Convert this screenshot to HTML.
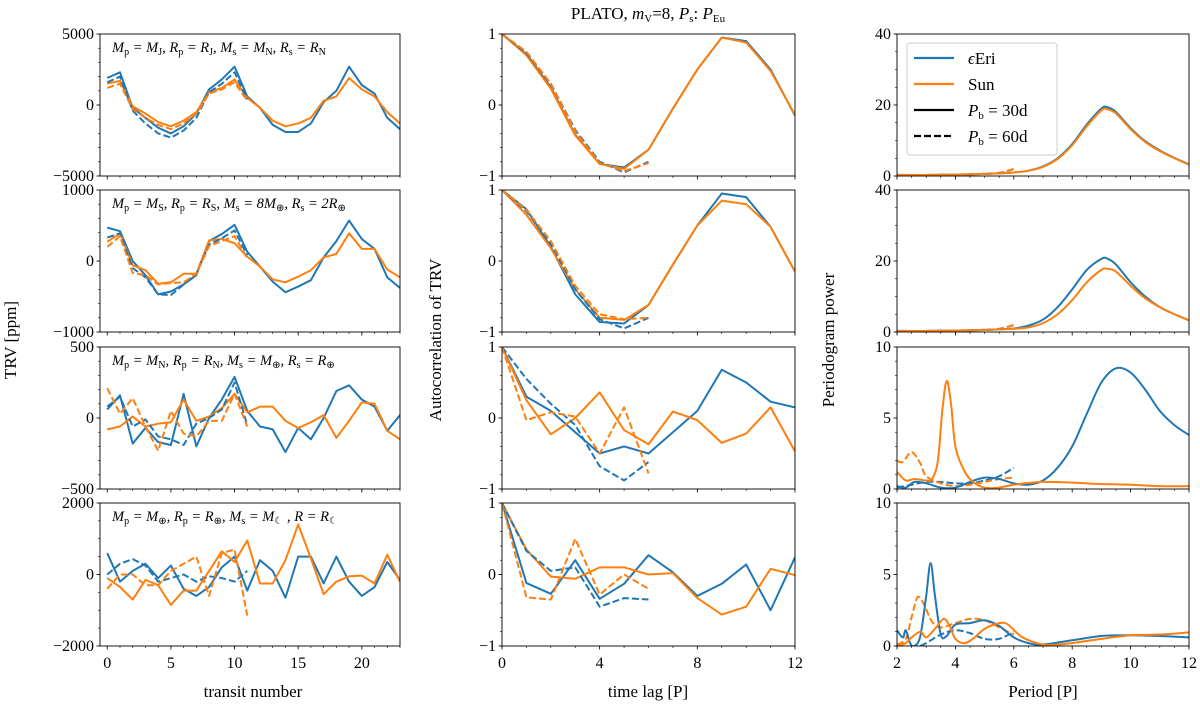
<!DOCTYPE html>
<html><head><meta charset="utf-8">
<style>
body{margin:0;background:#fff;}
svg text{font-family:"Liberation Serif",serif;fill:#000;}
</style></head>
<body>
<svg id="fig" width="1200" height="711" viewBox="0 0 1200 711" xmlns="http://www.w3.org/2000/svg"></svg>
<script>
// ---- data: column 1 TRV (transit number) ----
const transitNum = [0,1,2,3,4,5,6,7,8,9,10,11,12,13,14,15,16,17,18,19,20,21,22,23];
const transitShort = [0,1,2,3,4,5,6,7,8,9,10,11];
const trvA_blue30 = [1900,2300,-200,-900,-1600,-2000,-1500,-600,1100,1800,2700,600,-200,-1400,-1900,-1900,-1300,200,1000,2700,1400,800,-900,-1700];
const trvA_orange30 = [1500,1700,-100,-600,-1200,-1500,-1100,-500,900,1200,1800,500,-200,-1100,-1500,-1300,-900,300,600,1900,1100,600,-500,-1300];
const trvA_blue60 = [1600,2000,-400,-1300,-2000,-2300,-1800,-900,900,1500,2300,400];
const trvA_orange60 = [1200,1500,-300,-900,-1400,-1700,-1300,-600,800,1100,1600,300];
const trvB_blue30 = [470,420,0,-200,-470,-430,-330,-200,280,380,510,130,-80,-290,-440,-360,-270,50,280,570,310,170,-230,-380];
const trvB_orange30 = [270,390,-60,-130,-320,-300,-180,-180,290,310,250,60,-80,-260,-300,-220,-130,50,100,390,170,170,-120,-230];
const trvB_blue60 = [330,390,-100,-230,-470,-480,-330,-180,230,320,430,80];
const trvB_orange60 = [200,350,-170,-200,-330,-310,-300,-180,210,280,350,40];
const trvC_blue30 = [60,160,-180,-70,-170,-190,170,-200,0,130,290,50,-60,-80,-240,-70,-150,0,190,230,130,80,-90,20];
const trvC_orange30 = [-80,-60,10,-60,-40,-30,130,-20,10,70,170,40,80,80,-20,-70,-30,20,-140,-20,110,100,-90,-150];
const trvC_blue60 = [80,150,-60,-10,-130,-150,-190,-40,0,60,250,-50];
const trvC_orange60 = [210,30,140,-60,-230,50,-110,-130,-20,-20,170,-60];
const trvD_blue30 = [600,-200,100,300,-100,250,-400,-600,-350,200,500,-450,400,100,-650,500,500,-250,500,-200,-600,-350,350,-150];
const trvD_orange30 = [-100,-350,-700,-150,-300,-850,-450,-450,100,650,350,950,-250,-250,400,1400,450,-550,-200,-50,-30,-250,550,-200];
const trvD_blue60 = [0,300,430,250,-200,-100,0,-200,-50,-100,-200,100];
const trvD_orange60 = [-400,0,0,-300,-300,100,300,500,-600,600,700,-1150];
// ---- data: column 2 autocorrelation ----
const lags = [0,1,2,3,4,5,6,7,8,9,10,11,12];
const lagsShort = [0,1,2,3,4,5,6];
const acA_blue30 = [1,0.72,0.25,-0.42,-0.83,-0.88,-0.63,-0.05,0.5,0.95,0.9,0.5,-0.15];
const acA_orange30 = [1,0.7,0.23,-0.43,-0.83,-0.9,-0.63,-0.05,0.5,0.95,0.88,0.48,-0.14];
const acA_blue60 = [1,0.73,0.3,-0.35,-0.8,-0.95,-0.8];
const acA_orange60 = [1,0.75,0.3,-0.37,-0.82,-0.93,-0.82];
const acB_blue30 = [1,0.73,0.2,-0.47,-0.86,-0.88,-0.62,-0.05,0.5,0.95,0.9,0.48,-0.15];
const acB_orange30 = [1,0.65,0.18,-0.4,-0.8,-0.83,-0.62,-0.05,0.5,0.85,0.8,0.48,-0.15];
const acB_blue60 = [1,0.7,0.25,-0.4,-0.82,-0.95,-0.8];
const acB_orange60 = [1,0.72,0.28,-0.35,-0.75,-0.82,-0.8];
const acC_blue30 = [1,0.3,0.1,-0.2,-0.5,-0.4,-0.5,-0.2,0.1,0.68,0.5,0.23,0.15];
const acC_orange30 = [1,0.25,-0.23,0,0.36,-0.17,-0.37,0.09,-0.03,-0.35,-0.22,0.15,-0.47];
const acC_blue60 = [1,0.55,0.2,-0.1,-0.68,-0.88,-0.62];
const acC_orange60 = [1,-0.03,0.08,0.02,-0.5,0.15,-0.78];
const acD_blue30 = [1,-0.12,-0.27,0.2,-0.34,-0.13,0.27,0.03,-0.3,-0.13,0.14,-0.5,0.24];
const acD_orange30 = [1,0.35,-0.03,-0.06,0.1,0.1,0,0.02,-0.33,-0.56,-0.45,0.08,-0.01];
const acD_blue60 = [1,0.33,0.05,0.1,-0.45,-0.33,-0.35];
const acD_orange60 = [1,-0.32,-0.35,0.5,-0.28,0,-0.2];
// ---- data: column 3 periodogram ----
const perAB = [2,3,4,5,6,6.5,7,7.5,8,8.5,9,9.2,9.5,10,10.5,11,11.5,12];
const pgA_blue30 = [0.3,0.3,0.4,0.6,1,1.5,2.7,5,9,14.5,19,19.4,18,13.5,9.8,7.2,5.1,3.3];
const pgA_orange30 = [0.3,0.3,0.4,0.6,1,1.5,2.6,4.8,8.7,14,18.5,18.8,17.6,13.2,9.6,7,5,3.2];
const pgB_blue30 = [0.3,0.3,0.4,0.6,1,1.8,3.5,7,12,17.5,20.6,20.7,19,14,10,7,5,3.3];
const pgB_orange30 = [0.3,0.3,0.4,0.6,0.9,1.3,2.5,5,9,14,17.5,17.8,17,13,9.5,7,5,3.3];
const perAB60 = [2,3,4,5,5.5,5.8,6];
const pgA_blue60 = [0.2,0.3,0.4,0.6,0.9,1.5,2];
const pgA_orange60 = [0.2,0.3,0.4,0.6,0.9,1.5,2];
const pgB_blue60 = [0.2,0.3,0.4,0.6,0.9,1.5,2];
const pgB_orange60 = [0.2,0.3,0.4,0.6,0.9,1.5,2];
const perC_blue30 = [2,2.3,2.6,3,3.5,4,4.5,5,5.5,6,6.5,7,7.5,8,8.5,9,9.5,10,10.5,11,11.5,12];
const pgC_blue30 = [0.2,0.1,0.5,0.4,0.1,0.1,0.5,0.8,0.7,0.4,0.3,0.6,1.5,3,5.3,7.5,8.5,8.2,7,5.5,4.5,3.8];
const perC_orange30 = [2,2.3,2.6,3,3.2,3.4,3.55,3.7,3.85,4,4.3,4.6,5,5.5,6,7,8,9,10,11,12];
const pgC_orange30 = [1.2,0.6,0.7,0.6,0.7,2,5.5,7.6,6,3,1.3,0.5,0.1,0.1,0.3,0.5,0.45,0.35,0.3,0.2,0.2];
const perC60 = [2,2.5,3,3.5,4,4.5,5,5.5,6];
const pgC_blue60 = [0.1,0.3,0.5,0.5,0.4,0.4,0.6,0.9,1.5];
const perC_orange60 = [2,2.2,2.5,2.8,3,3.5,4,4.5,5,5.5,6];
const pgC_orange60 = [2.0,1.9,2.6,1.8,0.9,0.4,0.2,0.3,0.5,0.7,0.8];
const perD_blue30 = [2,2.2,2.3,2.45,2.6,2.8,3,3.15,3.3,3.5,3.7,4,4.5,5,5.5,6,6.5,7,8,9,10,11,12];
const pgD_blue30 = [1.1,0.6,1.1,0.2,0,0.7,3.5,5.8,3.5,0.8,0.7,1.5,1.6,1.8,1.4,0.6,0.2,0.1,0.4,0.7,0.75,0.7,0.6];
const perD_orange30 = [2,2.3,2.5,2.8,3,3.3,3.6,3.8,4,4.3,4.6,5,5.5,5.8,6.3,7,7.5,8,9,10,11,12];
const pgD_orange30 = [0,0.2,0.6,1,0.6,1.2,1.9,1.4,0.5,0.2,0.5,1.2,1.6,1.5,0.6,0.1,0.1,0.2,0.5,0.75,0.8,0.95];
const perD_blue60 = [2.8,3,3.5,4,4.5,5,5.5,6];
const pgD_blue60 = [0,0.2,0.8,1.1,0.9,0.5,0.5,1.0];
const perD_orange60 = [2,2.3,2.5,2.7,2.9,3.2,3.5,4,4.5,5,5.5,6];
const pgD_orange60 = [0.1,0.5,2,3.4,3,1.7,1.3,1.6,1.9,1.8,1.3,0.8];

const BLUE='#1f77b4', ORANGE='#ff7f0e';
const NS='http://www.w3.org/2000/svg';
const svg=document.getElementById('fig');
function mk(tag,attrs,parent){const e=document.createElementNS(NS,tag);for(const k in attrs)e.setAttribute(k,attrs[k]);(parent||svg).appendChild(e);return e;}

const cols=[{x0:100,x1:400},{x0:502,x1:795},{x0:897,x1:1189}];
const rows=[{y0:34,y1:176},{y0:190,y1:332},{y0:347,y1:489},{y0:503,y1:646}];

function axes(ci,ri,xlim,ylim,xMaj,xMin,yMaj,yMin,showXLabels,name){
  const c=cols[ci],r=rows[ri];
  const g=mk('g',{});
  
  
  const sx=v=>c.x0+(v-xlim[0])/(xlim[1]-xlim[0])*(c.x1-c.x0);
  const sy=v=>r.y1-(v-ylim[0])/(ylim[1]-ylim[0])*(r.y1-r.y0);
  const clipId='clip'+ci+ri;
  const cp=mk('clipPath',{id:clipId},g);mk('rect',{x:c.x0,y:r.y0,width:c.x1-c.x0,height:r.y1-r.y0},cp);
  const plot=mk('g',{'clip-path':'url(#'+clipId+')'},g);
  xMin.forEach(v=>{const x=sx(v);mk('line',{x1:x,x2:x,y1:r.y1,y2:r.y1+2,stroke:'#000','stroke-width':0.6},g);});
  xMaj.forEach(v=>{const x=sx(v);mk('line',{x1:x,x2:x,y1:r.y1,y2:r.y1+3.5,stroke:'#000','stroke-width':0.8},g);
    if(showXLabels){const t=mk('text',{x:x,y:r.y1+22,'text-anchor':'middle','font-size':16},g);t.textContent=v;}});
  yMin.forEach(v=>{const y=sy(v);mk('line',{x1:c.x0,x2:c.x0-2,y1:y,y2:y,stroke:'#000','stroke-width':0.6},g);});
  yMaj.forEach(v=>{const y=sy(v);mk('line',{x1:c.x0,x2:c.x0-3.5,y1:y,y2:y,stroke:'#000','stroke-width':0.8},g);
    const t=mk('text',{x:c.x0-6,y:y+5,'text-anchor':'end','font-size':16},g);t.textContent=(v<0?'\u2212'+(-v):v);});
  mk('rect',{x:c.x0,y:r.y0,width:c.x1-c.x0,height:r.y1-r.y0,fill:'none',stroke:'#000','stroke-width':0.9},g);
  return {plot,sx,sy};
}
function series(ax,xs,ys,color,dashed,smooth,name){
  const pts=xs.map((x,i)=>[ax.sx(x),ax.sy(ys[i])]);
  let d;
  if(!smooth){d='M'+pts.map(p=>p[0].toFixed(2)+','+p[1].toFixed(2)).join('L');}
  else{
    d='M'+pts[0][0]+','+pts[0][1];
    for(let i=0;i<pts.length-1;i++){
      const p0=pts[i-1]||pts[i],p1=pts[i],p2=pts[i+1],p3=pts[i+2]||p2;
      const c1=[p1[0]+(p2[0]-p0[0])/6,p1[1]+(p2[1]-p0[1])/6];
      const c2=[p2[0]-(p3[0]-p1[0])/6,p2[1]-(p3[1]-p1[1])/6];
      d+='C'+c1[0].toFixed(2)+','+c1[1].toFixed(2)+' '+c2[0].toFixed(2)+','+c2[1].toFixed(2)+' '+p2[0].toFixed(2)+','+p2[1].toFixed(2);
    }
  }
  const p=mk('path',{d:d,fill:'none',stroke:color,'stroke-width':2,'stroke-linejoin':'round'},ax.plot);
  if(dashed)p.setAttribute('stroke-dasharray','7,3');
  
  
}
function range(a,b,s){const r=[];for(let v=a;v<=b+1e-9;v+=s)r.push(Math.round(v*1000)/1000);return r;}

const trvSets=[
 [trvA_blue30,trvA_orange30,trvA_blue60,trvA_orange60,5000,1000],
 [trvB_blue30,trvB_orange30,trvB_blue60,trvB_orange60,1000,200],
 [trvC_blue30,trvC_orange30,trvC_blue60,trvC_orange60,500,100],
 [trvD_blue30,trvD_orange30,trvD_blue60,trvD_orange60,2000,500]];
trvSets.forEach((s,ri)=>{
  const m=s[4];
  const ax=axes(0,ri,[-0.57,23],[-m,m],[0,5,10,15,20],range(0,23,1),[-m,0,m],range(-m,m,s[5]),ri===3,'trv-panel-'+(ri+1));
  series(ax,transitNum,s[0],BLUE,false,false,'trv-eeri-30d');
  series(ax,transitNum,s[1],ORANGE,false,false,'trv-sun-30d');
  series(ax,transitShort,s[2],BLUE,true,false,'trv-eeri-60d');
  series(ax,transitShort,s[3],ORANGE,true,false,'trv-sun-60d');
});
const acSets=[
 [acA_blue30,acA_orange30,acA_blue60,acA_orange60],
 [acB_blue30,acB_orange30,acB_blue60,acB_orange60],
 [acC_blue30,acC_orange30,acC_blue60,acC_orange60],
 [acD_blue30,acD_orange30,acD_blue60,acD_orange60]];
acSets.forEach((s,ri)=>{
  const ax=axes(1,ri,[0,12],[-1,1],[0,4,8,12],range(0,12,1),[-1,0,1],range(-1,1,0.2),ri===3,'autocorr-panel-'+(ri+1));
  series(ax,lags,s[0],BLUE,false,false,'ac-eeri-30d');
  series(ax,lags,s[1],ORANGE,false,false,'ac-sun-30d');
  series(ax,lagsShort,s[2],BLUE,true,false,'ac-eeri-60d');
  series(ax,lagsShort,s[3],ORANGE,true,false,'ac-sun-60d');
});
const pgSets=[
 [[perAB,pgA_blue30],[perAB,pgA_orange30],[perAB60,pgA_blue60],[perAB60,pgA_orange60],40,[0,20,40],5],
 [[perAB,pgB_blue30],[perAB,pgB_orange30],[perAB60,pgB_blue60],[perAB60,pgB_orange60],40,[0,20,40],5],
 [[perC_blue30,pgC_blue30],[perC_orange30,pgC_orange30],[perC60,pgC_blue60],[perC_orange60,pgC_orange60],10,[0,5,10],1],
 [[perD_blue30,pgD_blue30],[perD_orange30,pgD_orange30],[perD_blue60,pgD_blue60],[perD_orange60,pgD_orange60],10,[0,5,10],1]];
pgSets.forEach((s,ri)=>{
  const ax=axes(2,ri,[2,12],[0,s[4]],[2,4,6,8,10,12],range(2,12,0.5),s[5],range(0,s[4],s[6]),ri===3,'periodogram-panel-'+(ri+1));
  series(ax,s[2][0],s[2][1],BLUE,true,true,'pg-eeri-60d');
  series(ax,s[3][0],s[3][1],ORANGE,true,true,'pg-sun-60d');
  series(ax,s[0][0],s[0][1],BLUE,false,true,'pg-eeri-30d');
  series(ax,s[1][0],s[1][1],ORANGE,false,true,'pg-sun-30d');
});

function txt(x,y,s,size,name,extra){const t=mk('text',Object.assign({x:x,y:y,'text-anchor':'middle','font-size':size},extra||{}));t.innerHTML=s;return t;}
function sb(s,fs){return '<tspan font-size="'+(fs||11)+'" baseline-shift="-3" font-style="normal">'+s+'</tspan>';}
txt(648,19,'PLATO, <tspan font-style="italic">m</tspan>'+sb('V')+'=8, <tspan font-style="italic">P</tspan>'+sb('s')+': <tspan font-style="italic">P</tspan>'+sb('Eu'),17,'figure-title');
txt(253,697,'transit number',17,'x-axis-title-transit');
txt(648,697,'time lag [P]',17,'x-axis-title-lag');
txt(1043,697,'Period [P]',17,'x-axis-title-period');
txt(16,340,'TRV [ppm]',17,'y-axis-title-trv',{transform:'rotate(-90 16 340)'});
txt(441,340,'Autocorrelation of TRV',17,'y-axis-title-autocorr',{transform:'rotate(-90 441 340)'});
txt(834,340,'Periodogram power',17,'y-axis-title-periodogram',{transform:'rotate(-90 834 340)'});

const E=' = ';
const anns=[
 'M'+sb('p',10)+E+'M'+sb('J',10)+', R'+sb('p',10)+E+'R'+sb('J',10)+', M'+sb('s',10)+E+'M'+sb('N',10)+', R'+sb('s',10)+E+'R'+sb('N',10),
 'M'+sb('p',10)+E+'M'+sb('S',10)+', R'+sb('p',10)+E+'R'+sb('S',10)+', M'+sb('s',10)+E+'8M'+sb('⊕',10)+', R'+sb('s',10)+E+'2R'+sb('⊕',10),
 'M'+sb('p',10)+E+'M'+sb('N',10)+', R'+sb('p',10)+E+'R'+sb('N',10)+', M'+sb('s',10)+E+'M'+sb('⊕',10)+', R'+sb('s',10)+E+'R'+sb('⊕',10),
 'M'+sb('p',10)+E+'M'+sb('⊕',10)+', R'+sb('p',10)+E+'R'+sb('⊕',10)+', M'+sb('s',10)+E+'M'+sb('☾',10)+' , R'+E+'R'+sb('☾',10)];
anns.forEach((a,i)=>{txt(112,rows[i].y0+18,a,14.5,'panel-annotation-'+(i+1),{'text-anchor':'start','font-style':'italic'});});

const lg=mk('g',{});


mk('rect',{x:907,y:43,width:150,height:112,rx:3,fill:'#fff','fill-opacity':0.8,stroke:'#ccc','stroke-width':1},lg);
const entries=[[BLUE,false,'<tspan font-style="italic">ϵ</tspan>Eri','legend-entry-eeri'],[ORANGE,false,'Sun','legend-entry-sun'],['#000',false,'<tspan font-style="italic">P</tspan>'+sb('b')+' = 30d','legend-entry-30d'],['#000',true,'<tspan font-style="italic">P</tspan>'+sb('b')+' = 60d','legend-entry-60d']];
entries.forEach((e,i)=>{
  const y=58+i*26;
  const ln=mk('line',{x1:914,x2:954,y1:y,y2:y,stroke:e[0],'stroke-width':2.2},lg);
  if(e[1])ln.setAttribute('stroke-dasharray','7,3');
  const t=mk('text',{x:968,y:y+6,'font-size':17},lg);t.innerHTML=e[2];
  
  
});
</script>
</body></html>
